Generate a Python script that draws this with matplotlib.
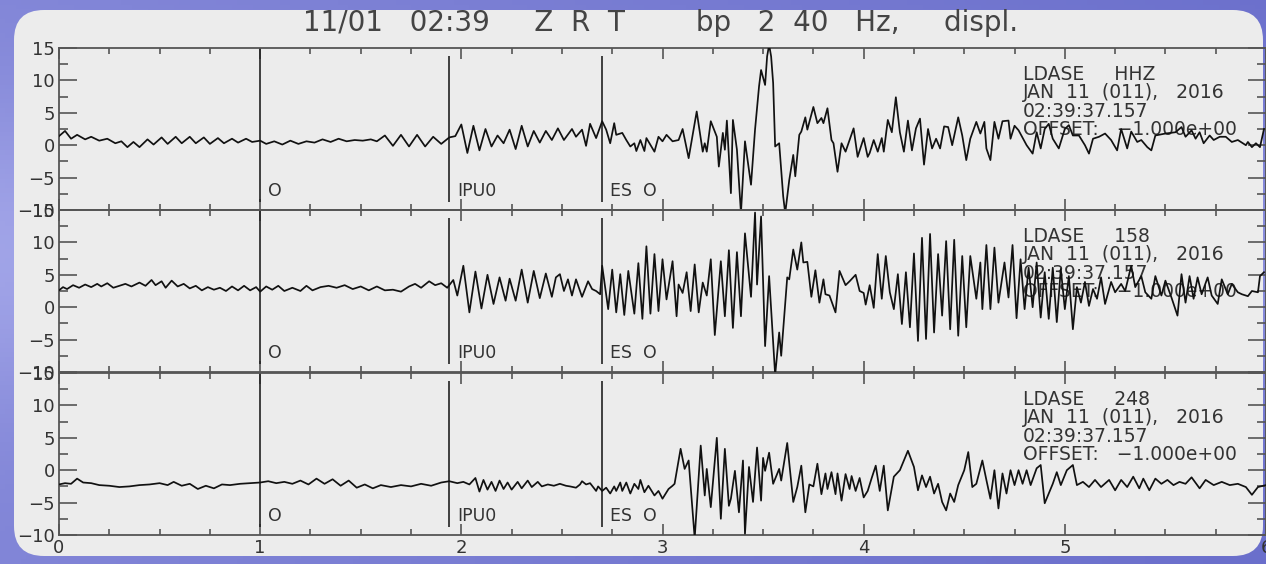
import numpy as np
import matplotlib
matplotlib.use('Agg')
import matplotlib.pyplot as plt
import matplotlib.patches as patches
from matplotlib.colors import LinearSegmentedColormap
from matplotlib.ticker import MultipleLocator

plt.rcParams['font.family'] = ['DejaVu Sans']

# ---- data (time s, displacement) ----
trace_hhz = [
    (0.00, 1.4), (0.03, 2.2), (0.06, 1.0), (0.09, 1.6), (0.13, 0.9), (0.16, 1.3), (0.20, 0.7), (0.24, 1.0),
    (0.28, 0.3), (0.31, 0.6), (0.34, -0.3), (0.37, 0.5), (0.40, -0.3), (0.44, 0.9), (0.47, 0.1), (0.51, 1.2),
    (0.54, 0.2), (0.58, 1.3), (0.61, 0.3), (0.65, 1.3), (0.68, 0.3), (0.72, 1.2), (0.75, 0.2), (0.79, 1.1),
    (0.82, 0.3), (0.86, 1.0), (0.89, 0.4), (0.93, 1.0), (0.96, 0.5), (1.00, 0.7), (1.03, 0.2), (1.07, 0.6),
    (1.11, 0.1), (1.15, 0.7), (1.19, 0.2), (1.23, 0.6), (1.27, 0.4), (1.31, 0.9), (1.35, 0.5), (1.39, 1.0),
    (1.43, 0.6), (1.47, 0.8), (1.51, 0.7), (1.55, 0.9), (1.58, 0.6), (1.62, 1.5), (1.66, -0.1), (1.70, 1.6),
    (1.74, -0.2), (1.78, 1.6), (1.82, -0.2), (1.86, 1.3), (1.90, 0.2), (1.94, 1.2), (1.97, 1.4), (2.00, 3.2),
    (2.03, -1.2), (2.06, 3.0), (2.09, -0.8), (2.12, 2.5), (2.15, -0.2), (2.18, 1.5), (2.21, 0.3), (2.24, 2.4),
    (2.27, -0.6), (2.30, 3.0), (2.33, -0.2), (2.36, 2.2), (2.39, 0.4), (2.42, 2.2), (2.45, 0.8), (2.48, 2.6),
    (2.51, 0.8), (2.55, 2.5), (2.57, 1.3), (2.60, 2.4), (2.62, -0.1), (2.64, 3.3), (2.67, 1.1), (2.70, 3.7),
    (2.72, 2.4), (2.74, 0.3), (2.76, 3.4), (2.77, 1.6), (2.80, 1.9), (2.82, 0.8), (2.84, -0.2), (2.86, 0.3),
    (2.87, -0.9), (2.89, 0.8), (2.91, -0.9), (2.92, 1.1), (2.96, -1.0), (2.98, 1.3), (3.00, 0.6), (3.02, 1.6),
    (3.05, 0.6), (3.08, 0.8), (3.10, 2.5), (3.13, -2.0), (3.17, 5.2), (3.20, -1.0), (3.21, 0.3), (3.22, -1.0),
    (3.24, 3.7), (3.27, 1.3), (3.28, -3.3), (3.30, 1.9), (3.31, -0.7), (3.32, 3.8), (3.34, -7.4), (3.35, 3.9),
    (3.37, -0.7), (3.39, -10.5), (3.41, 0.6), (3.44, -6.1), (3.46, 2.4), (3.48, 9.1), (3.49, 11.6), (3.51, 9.3),
    (3.52, 13.7), (3.53, 15.5), (3.54, 13.7), (3.55, 9.6), (3.56, -0.2), (3.58, 0.3), (3.60, -7.9), (3.61, -10.5),
    (3.63, -5.4), (3.65, -1.5), (3.66, -4.8), (3.68, 1.6), (3.69, 2.1), (3.71, 4.3), (3.72, 2.4), (3.75, 5.9),
    (3.77, 3.4), (3.79, 4.2), (3.80, 3.4), (3.82, 5.7), (3.84, 0.8), (3.85, 0.3), (3.87, -4.1), (3.89, 0.3),
    (3.91, -1.0), (3.95, 2.6), (3.97, -1.8), (4.00, 1.1), (4.02, -1.8), (4.03, -1.2), (4.05, 0.8), (4.07, -1.0),
    (4.09, 1.1), (4.10, -1.0), (4.12, 3.9), (4.14, 2.0), (4.16, 7.4), (4.18, 2.0), (4.20, -1.0), (4.22, 3.8),
    (4.24, -0.8), (4.26, 2.6), (4.28, 4.1), (4.30, -3.0), (4.32, 2.5), (4.34, -0.5), (4.36, 1.0), (4.38, -0.5),
    (4.40, 2.9), (4.42, 2.8), (4.44, 0.0), (4.47, 4.3), (4.49, 1.5), (4.51, -2.3), (4.53, 1.0), (4.56, 3.6),
    (4.58, 1.8), (4.60, 3.6), (4.61, -0.5), (4.63, -2.3), (4.65, 3.6), (4.67, 1.0), (4.69, 3.7), (4.72, 3.8),
    (4.73, 1.0), (4.75, 3.0), (4.77, 2.3), (4.81, 0.0), (4.84, -1.3), (4.86, 2.0), (4.88, -0.5), (4.90, 2.5),
    (4.92, 3.3), (4.94, 1.0), (4.97, -0.5), (5.00, 2.5), (5.02, 3.1), (5.04, 1.5), (5.07, 1.5), (5.10, 0.0),
    (5.12, -1.3), (5.14, 1.0), (5.17, 1.3), (5.20, 1.8), (5.23, 0.8), (5.26, -0.8), (5.28, 2.5), (5.31, -0.5),
    (5.33, 2.1), (5.36, 0.5), (5.38, 0.8), (5.41, -0.3), (5.43, -0.8), (5.45, 1.5), (5.50, 1.8), (5.55, 2.0),
    (5.58, 2.8), (5.60, 1.3), (5.63, 2.3), (5.65, 1.0), (5.67, 2.0), (5.69, 0.3), (5.72, 1.5), (5.74, 0.8),
    (5.77, 1.3), (5.80, 1.3), (5.83, 0.5), (5.86, 0.8), (5.90, 0.0), (5.91, 0.5), (5.93, -0.3), (5.95, 0.3),
    (5.97, -0.3), (5.99, 2.5),
]

trace_158 = [
    (0.00, 2.6), (0.02, 3.1), (0.04, 2.8), (0.07, 3.4), (0.10, 3.0), (0.13, 3.5), (0.16, 3.1), (0.19, 3.6),
    (0.21, 3.2), (0.24, 3.7), (0.27, 3.0), (0.30, 3.3), (0.33, 3.6), (0.36, 3.2), (0.40, 3.8), (0.43, 3.3),
    (0.46, 4.2), (0.48, 3.4), (0.51, 4.0), (0.53, 3.0), (0.56, 4.1), (0.59, 3.2), (0.62, 3.6), (0.65, 2.9),
    (0.68, 3.3), (0.71, 2.6), (0.74, 3.1), (0.77, 2.7), (0.80, 3.0), (0.83, 2.5), (0.86, 3.2), (0.89, 2.6),
    (0.92, 3.3), (0.95, 2.6), (0.98, 3.1), (1.00, 2.4), (1.03, 3.2), (1.06, 2.7), (1.09, 3.3), (1.12, 2.5),
    (1.16, 3.0), (1.20, 2.5), (1.23, 3.3), (1.26, 2.6), (1.30, 3.1), (1.34, 3.3), (1.38, 3.0), (1.42, 3.4),
    (1.46, 2.8), (1.50, 3.2), (1.54, 2.6), (1.58, 3.2), (1.62, 2.6), (1.66, 2.7), (1.70, 2.4), (1.74, 3.2),
    (1.77, 3.6), (1.80, 3.0), (1.84, 4.0), (1.87, 3.4), (1.90, 3.7), (1.93, 3.0), (1.96, 4.2), (1.98, 1.8),
    (2.01, 6.4), (2.04, -0.8), (2.07, 5.5), (2.10, -0.2), (2.13, 5.0), (2.16, 0.5), (2.19, 4.6), (2.22, 1.0),
    (2.24, 4.4), (2.27, 1.0), (2.30, 5.8), (2.33, 0.7), (2.36, 5.6), (2.39, 1.4), (2.42, 5.2), (2.45, 1.6),
    (2.47, 4.6), (2.49, 5.1), (2.51, 2.5), (2.53, 4.3), (2.55, 1.8), (2.57, 4.3), (2.60, 1.6), (2.63, 4.0),
    (2.65, 2.8), (2.67, 2.5), (2.69, 2.0), (2.70, 6.4), (2.73, -0.3), (2.75, 5.8), (2.77, -0.8), (2.79, 5.1),
    (2.81, -1.2), (2.83, 5.6), (2.86, -1.0), (2.88, 6.8), (2.90, -1.8), (2.92, 9.4), (2.94, -1.0), (2.96, 8.2),
    (2.98, -0.6), (3.00, 7.4), (3.02, 1.2), (3.05, 7.1), (3.07, -1.4), (3.08, 3.5), (3.10, 2.2), (3.12, 5.4),
    (3.14, -0.6), (3.16, 6.6), (3.18, -0.8), (3.20, 3.8), (3.22, 1.8), (3.24, 7.4), (3.26, -4.3), (3.29, 7.1),
    (3.31, -1.4), (3.33, 8.8), (3.35, -3.2), (3.37, 8.5), (3.39, -1.4), (3.41, 11.4), (3.44, 1.6), (3.46, 14.6),
    (3.47, 3.5), (3.49, 14.0), (3.51, -6.0), (3.53, 4.8), (3.56, -10.5), (3.58, -3.9), (3.59, -7.5), (3.62, 4.6),
    (3.63, 4.3), (3.65, 8.9), (3.67, 5.8), (3.69, 10.0), (3.70, 6.9), (3.72, 7.0), (3.74, 1.6), (3.76, 5.7),
    (3.78, 0.7), (3.80, 4.3), (3.81, 2.0), (3.83, 1.8), (3.86, -0.8), (3.88, 5.6), (3.91, 3.4), (3.93, 4.0),
    (3.96, 5.0), (3.98, 2.5), (4.00, 2.2), (4.01, 0.4), (4.03, 3.4), (4.05, -0.1), (4.07, 8.2), (4.09, 1.3),
    (4.11, 7.9), (4.13, 2.3), (4.15, -0.3), (4.17, 5.1), (4.19, -2.6), (4.21, 5.4), (4.23, -3.1), (4.25, 8.3),
    (4.27, -5.2), (4.29, 10.7), (4.31, -4.9), (4.33, 11.3), (4.35, -3.9), (4.37, 8.2), (4.39, -1.3), (4.41, 10.2),
    (4.43, -3.4), (4.45, 10.4), (4.47, -4.4), (4.49, 7.9), (4.51, -3.1), (4.53, 7.9), (4.56, 1.3), (4.58, 6.9),
    (4.59, -0.3), (4.61, 9.6), (4.63, -0.3), (4.65, 9.2), (4.67, 0.7), (4.70, 6.9), (4.72, 1.5), (4.74, 9.6),
    (4.76, -1.7), (4.78, 7.4), (4.80, -0.3), (4.82, 6.1), (4.84, 0.0), (4.86, 6.9), (4.88, -1.6), (4.90, 5.4),
    (4.92, -1.8), (4.94, 6.1), (4.96, -2.3), (4.98, 5.9), (5.00, -0.3), (5.02, 4.8), (5.04, -3.4), (5.06, 3.1),
    (5.08, 0.7), (5.10, 3.9), (5.12, 0.2), (5.14, 2.8), (5.16, 1.3), (5.18, 4.6), (5.20, 0.5), (5.23, 3.9),
    (5.25, 2.3), (5.28, 3.6), (5.30, 2.5), (5.33, 6.4), (5.35, 3.1), (5.38, 4.8), (5.40, 2.3), (5.43, 1.3),
    (5.45, 4.8), (5.48, 1.8), (5.50, 4.1), (5.53, 1.5), (5.56, -1.3), (5.58, 5.1), (5.60, 0.7), (5.62, 4.8),
    (5.64, 1.3), (5.66, 4.6), (5.68, 2.0), (5.71, 4.6), (5.73, 1.8), (5.76, 0.5), (5.78, 4.3), (5.81, 2.0),
    (5.83, 3.6), (5.86, 2.3), (5.88, 2.0), (5.91, 1.7), (5.93, 2.5), (5.96, 2.3), (5.97, 4.8), (5.99, 5.4),
]

trace_248 = [
    (0.00, -2.2), (0.03, -2.0), (0.06, -2.1), (0.09, -1.3), (0.12, -1.9), (0.16, -2.0), (0.20, -2.3), (0.25, -2.4),
    (0.30, -2.6), (0.35, -2.5), (0.40, -2.3), (0.45, -2.2), (0.50, -2.0), (0.54, -2.3), (0.57, -1.8), (0.61, -2.4),
    (0.65, -2.1), (0.69, -2.9), (0.73, -2.4), (0.77, -2.8), (0.81, -2.2), (0.85, -2.3), (0.90, -2.1), (0.95, -2.0),
    (1.00, -1.9), (1.04, -1.7), (1.08, -2.0), (1.12, -1.8), (1.16, -2.1), (1.20, -1.6), (1.24, -2.2), (1.28, -1.3),
    (1.32, -2.1), (1.36, -1.4), (1.40, -2.4), (1.44, -1.6), (1.48, -2.7), (1.52, -2.2), (1.56, -2.8), (1.60, -2.3),
    (1.65, -2.6), (1.70, -2.3), (1.75, -2.5), (1.80, -2.1), (1.85, -2.4), (1.90, -1.9), (1.94, -1.7), (1.98, -2.0),
    (2.01, -1.8), (2.04, -2.2), (2.07, -1.2), (2.09, -3.3), (2.11, -1.5), (2.13, -3.0), (2.15, -1.8), (2.17, -3.2),
    (2.19, -1.6), (2.21, -2.9), (2.23, -1.9), (2.25, -3.0), (2.28, -1.8), (2.30, -2.8), (2.33, -1.6), (2.35, -2.6),
    (2.38, -1.8), (2.40, -2.5), (2.43, -2.2), (2.46, -2.4), (2.49, -2.1), (2.52, -2.4), (2.54, -2.5), (2.57, -2.7),
    (2.59, -2.2), (2.60, -1.7), (2.62, -2.2), (2.64, -2.0), (2.67, -3.2), (2.68, -2.5), (2.70, -3.2), (2.72, -2.7),
    (2.74, -3.6), (2.76, -2.5), (2.77, -3.2), (2.79, -1.9), (2.80, -3.2), (2.82, -1.9), (2.84, -3.6), (2.86, -2.1),
    (2.88, -2.9), (2.89, -1.5), (2.91, -3.4), (2.93, -2.4), (2.95, -3.4), (2.96, -3.9), (2.98, -3.2), (3.00, -4.4),
    (3.03, -2.9), (3.05, -2.4), (3.06, -2.1), (3.09, 3.3), (3.11, 0.2), (3.13, 1.5), (3.16, -10.5), (3.19, 3.8),
    (3.21, -3.9), (3.22, 0.2), (3.24, -5.7), (3.27, 5.0), (3.29, -7.5), (3.31, 3.3), (3.33, -5.5), (3.34, -4.4),
    (3.36, -0.1), (3.38, -6.5), (3.40, 1.5), (3.41, -9.8), (3.43, 0.5), (3.45, -4.9), (3.47, 3.5), (3.49, -4.7),
    (3.50, 1.9), (3.51, -0.1), (3.53, 2.7), (3.55, -2.1), (3.58, 0.2), (3.59, -1.6), (3.62, 4.2), (3.65, -4.9),
    (3.67, -2.6), (3.69, 0.7), (3.71, -6.5), (3.73, -2.2), (3.75, -2.5), (3.77, 1.0), (3.79, -3.7), (3.81, -0.5),
    (3.82, -2.9), (3.84, -0.3), (3.86, -3.7), (3.87, -0.5), (3.89, -4.7), (3.91, -0.6), (3.93, -2.9), (3.94, -0.9),
    (3.96, -3.2), (3.98, -1.2), (4.00, -4.2), (4.02, -3.2), (4.04, -1.2), (4.06, 0.7), (4.08, -3.2), (4.10, 0.7),
    (4.12, -6.2), (4.15, -1.0), (4.18, 0.0), (4.20, 1.5), (4.22, 3.0), (4.25, 0.5), (4.27, -3.1), (4.29, -0.8),
    (4.31, -2.6), (4.33, -1.0), (4.35, -3.6), (4.37, -2.1), (4.39, -4.9), (4.41, -6.2), (4.43, -3.6), (4.45, -4.9),
    (4.47, -2.3), (4.50, 0.0), (4.52, 2.8), (4.54, -2.6), (4.56, -2.1), (4.59, 1.5), (4.61, -1.5), (4.63, -4.4),
    (4.65, 0.0), (4.67, -5.9), (4.69, -0.5), (4.71, -3.6), (4.73, 0.0), (4.75, -2.3), (4.77, 0.0), (4.79, -2.1),
    (4.81, 0.0), (4.83, -2.3), (4.86, 0.3), (4.88, 0.8), (4.90, -5.1), (4.92, -3.6), (4.94, -2.1), (4.96, -0.3),
    (4.98, -2.3), (5.01, 0.0), (5.04, 0.8), (5.06, -2.3), (5.09, -1.8), (5.12, -2.6), (5.15, -1.5), (5.18, -2.6),
    (5.22, -1.5), (5.25, -3.1), (5.28, -1.5), (5.31, -2.6), (5.34, -1.0), (5.37, -2.8), (5.39, -1.3), (5.42, -3.1),
    (5.45, -1.3), (5.48, -2.1), (5.51, -1.5), (5.54, -2.3), (5.57, -1.8), (5.60, -2.1), (5.63, -1.1), (5.67, -2.8),
    (5.70, -1.5), (5.74, -2.3), (5.78, -1.8), (5.82, -2.3), (5.86, -2.1), (5.90, -2.6), (5.93, -3.8), (5.96, -2.6),
    (6.00, -2.3),
]

traces = [trace_hhz, trace_158, trace_248]
channels = ["HHZ", "158", "248"]
phase_times = [1.00, 1.94, 2.70]
phase_names = ["O", "IPU0", "ES  O"]
x_ticks = [0, 1, 2, 3, 4, 5, 6]
y_ticks = [-10, -5, 0, 5, 10, 15]

title = "11/01   02:39     Z  R  T        bp   2  40   Hz,     displ."

W, H = 1266, 564
fig = plt.figure(figsize=(W / 100, H / 100), dpi=100)

# blue slide background + light rounded panel
bg = fig.add_axes([0, 0, 1, 1])
bg.set_xlim(0, W)
bg.set_ylim(H, 0)
bg.axis('off')
gy, gx = np.mgrid[0:1:120j, 0:1:240j]
shade = 0.55 + 0.35 * np.exp(-((gy - 0.45) ** 2) / 0.08) - 0.25 * gx
slide = LinearSegmentedColormap.from_list('slide', ['#4f54bd', '#a9acec'])
bg.imshow(shade, extent=(0, W, H, 0), aspect='auto', cmap=slide, vmin=0, vmax=1, zorder=0)
panel = patches.FancyBboxPatch((14, 10), 1249, 546, boxstyle="round,pad=0,rounding_size=30",
                               facecolor='#ececec', edgecolor='none', zorder=1)
bg.add_patch(panel)

fig.text(661 / W, 1 - 23 / H, title, ha='center', va='center', fontsize=20, color='#444444')

ink = '#555555'
tops = [48, 210, 373]
ph = 162
for i, (tr, ch) in enumerate(zip(traces, channels)):
    ax = fig.add_axes([59 / W, 1 - (tops[i] + ph) / H, (1266 - 59) / W, ph / H])
    ax.patch.set_alpha(0)
    ax.set_xlim(0, 6)
    ax.set_ylim(-10, 15)
    t, amp = zip(*tr)
    ax.plot(t, amp, color='#111111', lw=1.25, solid_joinstyle='round', zorder=3)

    for k, (pt, pn) in enumerate(zip(phase_times, phase_names)):
        ax.vlines(pt, -8.7, 15 if k == 0 else 13.7, color='#222222', lw=1.2, zorder=2)
        ax.text(pt + 0.04, -7.0, pn, fontsize=12.5, color='#333333', va='center', ha='left')

    ax.text(4.79, 12.4, "LDASE     %s\nJAN  11  (011),   2016\n02:39:37.157\nOFFSET:   \u22121.000e+00" % ch,
            fontsize=13.5, color='#333333', va='top', ha='left', linespacing=0.97, zorder=2)

    for s in ax.spines.values():
        s.set_color(ink)
        s.set_linewidth(1.3)
    ax.set_xticks(x_ticks)
    ax.xaxis.set_minor_locator(MultipleLocator(0.25))
    ax.set_yticks(y_ticks)
    ax.yaxis.set_minor_locator(MultipleLocator(2.5))
    ax.tick_params(axis='x', which='major', direction='in', top=True, bottom=True,
                   length=8, width=1.2, color=ink, labelsize=13, labelcolor='#333333', pad=3)
    ax.tick_params(axis='x', which='minor', direction='in', top=True, bottom=True,
                   length=4, width=1.2, color=ink)
    ax.tick_params(axis='y', which='major', direction='in', left=True, right=True,
                   length=13, width=1.2, color=ink, labelsize=13, labelcolor='#333333', pad=3)
    ax.tick_params(axis='y', which='minor', direction='in', left=True, right=True,
                   length=6.5, width=1.2, color=ink)
    if i < 2:
        ax.tick_params(axis='x', labelbottom=False)

fig.savefig('out.png', dpi=100)
